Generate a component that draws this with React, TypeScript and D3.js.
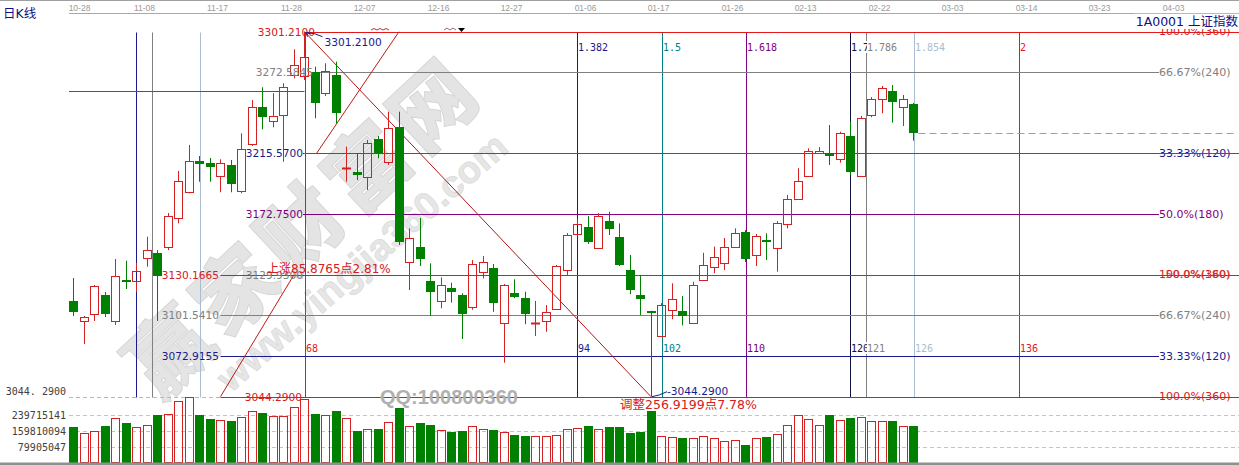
import React from "react";
import * as d3 from "d3";

const W = 1239;
const H = 465;

// Session labels on the top axis, one every seven sessions
const tickDates = ["10-28", "11-08", "11-17", "11-28", "12-07", "12-16", "12-27", "01-06", "01-17", "01-26", "02-13", "02-22", "03-03", "03-14", "03-23", "04-03"];

// Daily OHLC of 上证指数
const opens = [3111.7, 3097.6, 3102.5, 3115.9, 3097.6, 3126.4, 3125.9, 3141.7, 3145.6, 3149.9, 3169.9, 3188.2, 3210.2, 3209.0, 3199.6, 3207.4, 3188.9, 3222.0, 3248.0, 3238.4, 3242.6, 3270.7, 3270.0, 3273.1, 3257.9, 3270.7, 3204.4, 3202.5, 3199.1, 3225.5, 3209.7, 3234.3, 3139.3, 3149.9, 3125.7, 3111.9, 3120.6, 3115.9, 3107.6, 3132.3, 3134.7, 3096.0, 3117.5, 3114.0, 3096.0, 3097.8, 3105.8, 3133.5, 3158.8, 3163.5, 3148.7, 3168.0, 3156.9, 3133.5, 3115.9, 3104.8, 3087.2, 3105.3, 3104.6, 3096.0, 3126.4, 3135.4, 3138.2, 3149.9, 3160.0, 3144.0, 3154.6, 3148.7, 3165.9, 3183.5, 3199.6, 3216.0, 3216.0, 3211.4, 3227.8, 3199.6, 3242.6, 3253.6, 3259.7, 3248.0, 3250.1];
const highs = [3127.8, 3101.1, 3122.9, 3118.0, 3141.2, 3140.0, 3138.4, 3156.9, 3147.5, 3173.6, 3203.2, 3221.5, 3213.7, 3212.3, 3211.4, 3210.9, 3229.7, 3253.1, 3262.1, 3257.9, 3264.9, 3288.8, 3301.21, 3276.6, 3279.0, 3280.1, 3220.3, 3215.6, 3225.0, 3227.8, 3244.9, 3244.9, 3162.8, 3170.1, 3138.2, 3128.3, 3124.5, 3117.1, 3140.5, 3143.3, 3137.7, 3123.6, 3126.9, 3118.2, 3111.7, 3108.8, 3137.0, 3159.5, 3169.4, 3171.5, 3173.4, 3174.5, 3166.3, 3144.0, 3130.0, 3104.8, 3110.2, 3124.1, 3115.2, 3125.2, 3145.6, 3149.9, 3156.0, 3162.8, 3161.6, 3158.8, 3159.3, 3167.9, 3186.3, 3205.1, 3219.1, 3220.0, 3235.5, 3230.8, 3237.9, 3241.9, 3255.2, 3263.0, 3263.7, 3256.7, 3251.0];
const lows = [3101.1, 3081.4, 3097.6, 3100.4, 3094.8, 3120.1, 3118.0, 3135.8, 3097.6, 3147.5, 3166.3, 3187.5, 3195.6, 3195.6, 3188.2, 3188.2, 3187.5, 3220.8, 3232.5, 3233.9, 3209.7, 3268.4, 3267.2, 3240.3, 3256.0, 3236.7, 3195.6, 3196.8, 3189.8, 3212.1, 3207.4, 3151.1, 3119.4, 3136.3, 3101.1, 3106.5, 3110.5, 3084.9, 3105.5, 3127.6, 3104.1, 3068.2, 3113.6, 3095.3, 3087.0, 3090.0, 3105.3, 3130.0, 3157.4, 3151.8, 3148.2, 3158.1, 3136.3, 3116.4, 3101.8, 3044.29, 3086.3, 3098.8, 3094.5, 3095.5, 3125.7, 3131.2, 3133.5, 3149.0, 3139.1, 3136.3, 3140.5, 3132.3, 3162.8, 3182.7, 3199.6, 3215.8, 3207.4, 3209.0, 3200.3, 3199.6, 3241.0, 3243.8, 3237.2, 3234.8, 3224.5];
const closes = [3104.1, 3100.4, 3122.2, 3102.5, 3129.3, 3125.0, 3133.0, 3147.5, 3129.3, 3171.5, 3196.1, 3210.4, 3207.9, 3205.8, 3208.6, 3194.0, 3218.4, 3248.4, 3241.4, 3241.9, 3262.1, 3277.8, 3283.2, 3250.8, 3273.5, 3244.2, 3205.1, 3200.1, 3222.7, 3215.6, 3233.2, 3153.2, 3156.0, 3141.0, 3118.2, 3122.9, 3118.2, 3102.5, 3137.5, 3139.3, 3110.5, 3122.9, 3114.7, 3102.5, 3096.4, 3103.7, 3136.3, 3158.1, 3165.6, 3153.2, 3171.5, 3162.1, 3137.0, 3119.4, 3113.1, 3103.4, 3108.8, 3112.9, 3101.1, 3122.9, 3137.0, 3142.4, 3149.9, 3159.3, 3141.0, 3157.4, 3153.4, 3166.8, 3183.2, 3196.3, 3217.4, 3217.4, 3213.7, 3230.1, 3202.7, 3240.3, 3253.8, 3261.4, 3251.9, 3253.8, 3229.7];
// Turnover, millions
const volumes = [182.3, 152.3, 162.3, 187.3, 224.2, 202.3, 182.3, 190.8, 240.7, 245.7, 310.6, 329.1, 240.7, 220.7, 215.7, 210.7, 229.2, 260.7, 252.2, 235.7, 235.7, 279.2, 319.1, 245.7, 240.7, 260.7, 224.2, 160.8, 170.8, 170.8, 205.8, 277.2, 185.8, 200.8, 190.8, 165.8, 157.3, 160.8, 185.8, 170.8, 165.8, 157.3, 140.8, 135.8, 135.8, 135.8, 140.8, 170.8, 174.3, 187.3, 170.8, 182.3, 182.3, 152.3, 157.3, 262.2, 135.8, 129.3, 127.3, 127.3, 135.8, 127.3, 110.9, 115.9, 90.9, 124.4, 129.3, 145.8, 190.8, 240.7, 220.7, 190.8, 240.7, 215.7, 227.2, 232.2, 210.7, 210.7, 210.7, 185.8, 185.8];
const volumeTicks = [79905047, 159810094, 239715141];

// Time projection: ratios of the 68-session swing
const swingLength = 68;
const swingOrigin = -46;
const timeRatios = [0.764, 0.786, 0.854, 1, 1.382, 1.5, 1.618, 1.764, 1.786, 1.854, 2];
const ratioText = ["", "", "", "", "1.382", "1.5", "1.618", "1.764", "1.786", "1.854", "2"];

const swingHigh = 3301.21;
const swingLow = 3044.29;
const riseTop = 3130.1665;
const riseText = "上涨85.8765点2.81%";
const dropText = "调整256.9199点7.78%";

const RED = "#d42020";
const LRED = "#e41818";
const GREEN = "#008000";
const NAVY = "#1a1a8c";
const PURPLE = "#800080";
const TEAL = "#008080";
const GRAY = "#808080";
const PALE = "#a8bed0";
const timeColors = [NAVY, GRAY, PALE, LRED, NAVY, TEAL, PURPLE, "#101040", GRAY, PALE, LRED];

const MONO = "'DejaVu Sans Mono', monospace";
const SANS = "'DejaVu Sans', sans-serif";
const CJK = "'DejaVu Sans', 'Noto Sans CJK SC', sans-serif";

const px = (v: number) => Math.round(v) + 0.5;

export default function App() {
  const x = d3.scaleLinear().domain([0, 1]).range([73.5, 84]);
  const y = d3.scaleLinear().domain([swingLow, swingHigh]).range([396.7, 31.7]);
  const yv = d3.scaleLinear().domain([0, volumeTicks[0]]).range([463.2, 447.2]);
  const cxOf = (i: number) => Math.floor(x(i)) + 0.5;
  const right = W;
  const labelX = 1159;

  const lowerStart = x(14);
  const upperStart = x(22);
  const thirds = [0, 1, 2, 3].map((k) => swingLow + ((swingHigh - swingLow) * k) / 3);
  const riseStep = (riseTop - swingLow) / 3;

  const hLine = (p: number, x1: number, x2: number, color: string, key: string) => (
    <line key={key} x1={x1} x2={x2} y1={px(y(p))} y2={px(y(p))} stroke={color} strokeWidth={1} />
  );
  const leftLabel = (p: number, xEnd: number, color: string, key: string) => (
    <text key={key} x={xEnd} y={y(p)} fill={color} fontFamily={SANS} fontSize={10.6} textAnchor="end" dominantBaseline="central">
      {p.toFixed(4)}
    </text>
  );
  const rightLabel = (p: number, label: string, color: string, key: string) => (
    <text key={key} x={labelX} y={y(p)} fill={color} fontFamily={SANS} fontSize={11} dominantBaseline="central">
      {label}
    </text>
  );

  const peakX = x(22);
  const troughX = x(55);

  return (
    <div style={{ position: "fixed", left: 0, top: 0, width: W, height: H, background: "#fff" }}>
      <svg width={W} height={H} viewBox={`0 0 ${W} ${H}`} style={{ display: "block" }}>
        <rect width={W} height={H} fill="#fff" />

        {/* watermark */}
        <g opacity={0.7}>
          <text x={300} y={222} transform="rotate(-43 300 222)" textAnchor="middle" dominantBaseline="central"
            fontFamily="'Noto Sans CJK SC', sans-serif" fontWeight={900} fontSize={82} letterSpacing={8}
            fill="#dadada" stroke="#c6c6c6" strokeWidth={1}>赢家财富网</text>
          <text x={362} y={262} transform="rotate(-41 362 262)" textAnchor="middle" dominantBaseline="central"
            fontFamily="'Liberation Sans', Arial, sans-serif" fontWeight={700} fontSize={38}
            fill="#dcdcdc" stroke="#cdcdcd" strokeWidth={0.8}>www.yingjia360.com</text>
        </g>

        {/* frame and top axis */}
        <line x1={0} x2={W} y1={0.5} y2={0.5} stroke="#a0a0a0" />
        <line x1={69} x2={W} y1={13.5} y2={13.5} stroke="#a8a8a8" />
        {tickDates.map((d, k) => (
          <text key={d} x={Math.max(cxOf(7 * k) - 3, 79.5)} y={7.5} fill="#9a9a9a" fontFamily="'Liberation Sans', Arial, sans-serif"
            fontSize={8.5} textAnchor="middle" dominantBaseline="central">{d}</text>
        ))}
        <text x={3} y={13} fill="#101080" fontFamily={CJK} fontSize={12.5} dominantBaseline="central">日K线</text>

        {/* volume grid */}
        {volumeTicks.map((v) => (
          <g key={v}>
            <line x1={69} x2={W} y1={px(yv(v))} y2={px(yv(v))} stroke="#c4c4c4" strokeDasharray="4 3" />
            <text x={66} y={yv(v)} fill="#404040" fontFamily={MONO} fontSize={10} textAnchor="end" dominantBaseline="central">{v}</text>
          </g>
        ))}
        <line x1={69} x2={lowerStart} y1={px(y(swingLow))} y2={px(y(swingLow))} stroke="#b8b8b8" strokeDasharray="4 3" />
        <text x={66} y={y(swingLow) - 5} fill="#404040" fontFamily={MONO} fontSize={10} textAnchor="end" dominantBaseline="central">3044. 2900</text>

        {/* time projection lines */}
        {timeRatios.map((r, k) => {
          const xi = px(x(swingOrigin + r * swingLength));
          return <line key={r} x1={xi} x2={xi} y1={px(y(swingHigh))} y2={px(y(swingLow))} stroke={timeColors[k]} />;
        })}

        {/* level lines */}
        {hLine(3259.47, 69, upperStart, LRED, "prior")}
        {hLine(3272.5845, 315, labelX, GRAY, "u1")}
        {hLine(3172.75, 303, labelX, PURPLE, "u2")}
        {hLine(thirds[2], 303, upperStart, NAVY, "u3n")}
        {hLine(swingLow + riseStep, lowerStart, labelX, NAVY, "l1")}
        {hLine(swingLow + 2 * riseStep, lowerStart, labelX, GRAY, "l2")}
        {thirds.map((p, k) => hLine(p, upperStart, right, LRED, "t" + k))}
        {hLine(riseTop, lowerStart, right, LRED, "rt")}
        {hLine(swingLow, lowerStart, right, LRED, "rb")}

        {/* trend and measurement lines */}
        <line x1={peakX} y1={y(swingHigh)} x2={troughX} y2={y(swingLow)} stroke="#b01818" strokeWidth={1} />
        <line x1={lowerStart} y1={y(swingLow)} x2={x(21)} y2={y(riseTop)} stroke="#c01818" strokeWidth={1} />
        <line x1={x(23.15)} y1={y(thirds[2])} x2={x(31)} y2={y(swingHigh)} stroke="#c01818" strokeWidth={1} />

        {/* candles */}
        {closes.map((c, i) => {
          const o = opens[i];
          const up = c >= o;
          const cx = cxOf(i);
          const top = y(Math.max(o, c));
          const bot = y(Math.min(o, c));
          const hi = y(highs[i]);
          const lo = y(lows[i]);
          const col = up ? RED : GREEN;
          if (bot - top < 1.6) {
            return (
              <g key={i}>
                <line x1={cx} x2={cx} y1={hi} y2={lo} stroke={col} />
                <rect x={cx - 4.5} y={Math.round(top) - 0.5} width={9} height={2} fill={col} />
              </g>
            );
          }
          if (up) {
            return (
              <g key={i}>
                <line x1={cx} x2={cx} y1={hi} y2={Math.round(top) + 0.5} stroke={col} />
                <line x1={cx} x2={cx} y1={Math.round(bot) + 0.5} y2={lo} stroke={col} />
                <rect x={cx - 4} y={Math.round(top) + 0.5} width={8} height={Math.round(bot) - Math.round(top)} fill="none" stroke={col} />
              </g>
            );
          }
          return (
            <g key={i}>
              <line x1={cx} x2={cx} y1={hi} y2={lo} stroke={col} />
              <rect x={cx - 4.5} y={Math.round(top)} width={9} height={Math.max(1, Math.round(bot) - Math.round(top))} fill={col} />
            </g>
          );
        })}

        {/* volume */}
        {volumes.map((v, i) => {
          const up = closes[i] >= opens[i];
          const cx = cxOf(i);
          const top = Math.round(yv(v * 1e6));
          return up ? (
            <rect key={i} x={cx - 4} y={top + 0.5} width={8} height={462 - top} fill="none" stroke={RED} />
          ) : (
            <rect key={i} x={cx - 4.5} y={top} width={9} height={463 - top} fill={GREEN} />
          );
        })}
        <rect x={0} y={462.5} width={W} height={2.5} fill="#909090" />

        {/* last close */}
        <line x1={cxOf(80) + 5} x2={1235} y1={px(y(closes[80]))} y2={px(y(closes[80]))} stroke="#a0a0a0" strokeDasharray="7 4" />

        {/* level labels, left */}
        {leftLabel(swingHigh, 315, RED, "lh")}
        {leftLabel(3272.5845, 313, GRAY, "l72")}
        {leftLabel(thirds[2], 303, NAVY, "l15")}
        {leftLabel(3172.75, 303, PURPLE, "l17")}
        {leftLabel(thirds[1], 303, GRAY, "l29")}
        {leftLabel(swingLow, 302, RED, "l04")}
        {leftLabel(riseTop, 219, RED, "r30")}
        {leftLabel(swingLow + 2 * riseStep, 219, GRAY, "r01")}
        {leftLabel(swingLow + riseStep, 219, NAVY, "r07")}

        {/* level labels, right */}
        {rightLabel(swingHigh, "100.0%(360)", RED, "p0")}
        {rightLabel(3272.5845, "66.67%(240)", GRAY, "p1")}
        {rightLabel(thirds[2], "33.33%(120)", NAVY, "p2")}
        {hLine(thirds[2], labelX, right, LRED, "p2s")}
        {rightLabel(3172.75, "50.0%(180)", PURPLE, "p3")}
        <text x={labelX + 6.5} y={y(riseTop)} fill="#e06060" fontFamily={SANS} fontSize={11} dominantBaseline="central">50.0%(180)</text>
        {rightLabel(riseTop, "100.0%(360)", RED, "p4")}
        {rightLabel(swingLow + 2 * riseStep, "66.67%(240)", GRAY, "p5")}
        {rightLabel(swingLow + riseStep, "33.33%(120)", NAVY, "p6")}
        {rightLabel(swingLow, "100.0%(360)", RED, "p7")}

        {/* time projection labels */}
        {timeRatios.map((r, k) => {
          if (r < 1) return null;
          const xi = Math.round(x(swingOrigin + r * swingLength)) + 1;
          const count = String(Math.round(r * swingLength));
          const t = ratioText[k];
          return (
            <g key={"tl" + r}>
              {t && <rect x={xi} y={41} width={t.length * 6 + 1} height={12} fill="#fff" />}
              {t && <text x={xi} y={47} fill={timeColors[k]} fontFamily={MONO} fontSize={10} dominantBaseline="central">{t}</text>}
              <rect x={xi} y={342} width={count.length * 6 + 1} height={12} fill="#fff" />
              <text x={xi} y={348} fill={timeColors[k]} fontFamily={MONO} fontSize={10} dominantBaseline="central">{count}</text>
            </g>
          );
        })}

        {/* swing high / low markers */}
        <path d={`M${peakX + 2},${y(swingHigh) + 1} Q${peakX + 10},${y(swingHigh) + 1} ${peakX + 18},${y(swingHigh) + 5}`} fill="none" stroke={NAVY} />
        <path d={`M${peakX + 2},${y(swingHigh) + 1} l4,1 M${peakX + 2},${y(swingHigh) + 1} l1,4`} stroke={NAVY} />
        <text x={peakX + 20} y={42} fill={NAVY} fontFamily={SANS} fontSize={10.6} dominantBaseline="central">{swingHigh.toFixed(4)}</text>
        <path d={`M${troughX + 1},${y(swingLow)} Q${troughX + 8},${y(swingLow) - 1} ${troughX + 16},${y(swingLow) - 5}`} fill="none" stroke={NAVY} />
        <text x={troughX + 16} y={391} fill={NAVY} fontFamily={SANS} fontSize={10.6} dominantBaseline="central">-{swingLow.toFixed(4)}</text>

        {/* clipped marks at the top edge */}
        <path d="M371,30 q3,-3 6,0 q3,-3 6,0 q3,-3 6,0" fill="none" stroke="#c03030" />
        <path d="M444,30 l3,-2 l3,2 l3,-2 l3,2" fill="none" stroke="#804040" strokeWidth={0.8} />
        <path d="M458,28 l7,0 l-3.5,4 z" fill="#000" />

        {/* measurements */}
        <text x={267} y={269} fill={RED} fontFamily={CJK} fontSize={12} dominantBaseline="central">{riseText}</text>
        <text x={620} y={404.5} fill={RED} fontFamily={CJK} fontSize={12.5} dominantBaseline="central">{dropText}</text>
        <text x={380} y={397} fill="#b0b0b0" fontFamily="'Liberation Sans', Arial, sans-serif" fontWeight={700} fontSize={20} dominantBaseline="central">QQ:100800360</text>

        {/* title */}
        <rect x={1134} y={13.8} width={105} height={15.2} fill="#fff" />
        <text x={1238} y={21} fill="#101080" fontFamily={CJK} fontSize={12.5} textAnchor="end" dominantBaseline="central">1A0001 上证指数</text>
      </svg>
    </div>
  );
}
